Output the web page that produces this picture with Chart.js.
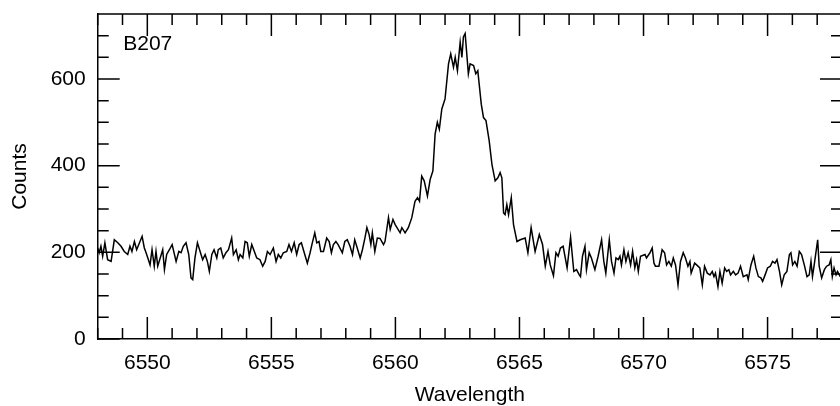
<!DOCTYPE html>
<html>
<head>
<meta charset="utf-8">
<script src="https://cdn.jsdelivr.net/npm/chart.js@4.4.1/dist/chart.umd.min.js"></script>
<style>
  html, body { margin: 0; padding: 0; background: #fff; overflow: hidden; }
  #wrap { position: relative; width: 842px; height: 406px; }
</style>
</head>
<body>
<div id="wrap"><canvas id="c"></canvas></div>
<script>
// ---- data ----
const wavelength = [
  6548.00,6548.06,6548.13,6548.20,6548.29,6548.40,6548.54,6548.67,6548.81,6548.94,
  6549.07,6549.21,6549.30,6549.38,6549.48,6549.57,6549.79,6549.88,6549.95,6550.02,
  6550.11,6550.19,6550.28,6550.35,6550.42,6550.62,6550.69,6550.78,6550.89,6551.00,
  6551.16,6551.27,6551.36,6551.45,6551.56,6551.67,6551.76,
  6551.83,6551.92,6552.02,6552.23,6552.33,6552.42,6552.50,6552.60,6552.69,6552.80,
  6552.86,6552.96,6553.06,6553.17,6553.27,6553.40,6553.47,6553.58,6553.67,6553.74,
  6553.85,6553.94,6554.03,6554.11,6554.21,6554.41,6554.54,6554.65,6554.75,6554.84,
  6554.95,6555.08,6555.19,6555.28,6555.38,6555.48,
  6555.62,6555.71,6555.81,6555.92,6556.02,6556.12,6556.21,6556.29,6556.45,6556.56,
  6556.65,6556.75,6556.83,6556.92,6556.99,6557.10,6557.23,6557.33,6557.42,6557.50,
  6557.60,6557.69,6557.86,6557.96,6558.06,6558.17,6558.27,6558.36,6558.44,6558.58,
  6558.67,6558.77,6558.85,6558.94,6559.01,6559.07,6559.17,6559.27,6559.38,
  6559.52,6559.58,6559.72,6559.79,6559.90,6559.99,6560.19,6560.26,6560.39,6560.52,
  6560.66,6560.79,6560.89,6560.97,6561.06,6561.16,6561.29,6561.40,6561.51,6561.60,
  6561.69,6561.77,6561.87,6562.00,6562.14,6562.23,6562.34,6562.41,6562.50,6562.61,
  6562.68,6562.74,6562.81,
  6562.94,6563.01,6563.15,6563.24,6563.32,6563.46,6563.55,6563.65,6563.78,6563.89,
  6564.02,6564.13,6564.22,6564.29,6564.36,6564.42,6564.49,6564.56,6564.67,6564.76,
  6564.90,6565.03,6565.23,6565.34,6565.47,6565.63,6565.80,6565.93,6566.04,6566.15,
  6566.24,6566.37,
  6566.47,6566.56,6566.65,6566.76,6566.92,6567.06,6567.19,6567.30,6567.41,6567.46,
  6567.54,6567.64,6567.70,6567.81,6567.90,6568.04,6568.17,6568.31,6568.40,6568.48,
  6568.62,6568.71,6568.81,6568.89,6568.98,6569.05,6569.11,6569.21,6569.29,6569.38,
  6569.48,6569.56,6569.65,6569.72,6569.79,6569.88,6570.06,6570.12,
  6570.26,6570.35,6570.42,6570.48,6570.62,6570.75,6570.85,6570.93,6571.02,6571.12,
  6571.20,6571.29,6571.39,6571.49,6571.60,6571.69,6571.79,6571.87,6571.92,6572.06,
  6572.14,6572.27,6572.37,6572.46,6572.57,6572.68,6572.77,6572.84,6572.90,6573.00,
  6573.08,6573.17,6573.27,6573.35,6573.44,6573.51,6573.62,6573.71,6573.81,6573.91,
  6574.02,
  6574.17,6574.22,6574.33,6574.44,6574.53,6574.63,6574.73,6574.80,6574.90,6575.00,
  6575.11,6575.20,6575.30,6575.38,6575.48,6575.57,6575.67,6575.78,6575.88,6575.94,
  6576.01,6576.10,6576.19,6576.28,6576.37,6576.48,6576.59,6576.68,6576.75,6576.81,
  6576.88,6577.02,6577.08,6577.18,6577.29,6577.38,6577.48,6577.55,6577.61,6577.68,
  6577.76,6577.82,6577.93
];
const counts = [
  210,199,214,191,222,183,179,229,222,214,
  202,195,214,202,225,206,237,210,199,187,
  171,206,168,202,168,206,160,195,206,218,
  179,202,199,214,222,195,141,
  137,187,222,183,195,179,156,195,206,187,
  206,210,187,199,206,233,195,206,183,195,
  187,225,222,191,218,187,183,168,179,202,
  195,210,179,195,187,199,
  202,218,202,222,195,218,222,206,175,199,
  222,245,222,225,202,202,233,225,199,218,
  225,218,199,225,229,214,195,229,214,187,
  206,233,257,241,218,245,202,233,232,
  218,225,280,253,276,264,245,257,245,257,
  280,318,326,318,376,365,330,368,388,473,
  500,484,531,554,635,658,627,650,619,685,
  650,697,705,
  612,635,631,612,619,542,511,504,457,403,
  365,372,384,372,291,287,310,287,326,264,
  225,229,233,199,257,202,241,218,168,202,
  171,146,
  199,191,210,214,164,235,156,160,148,144,
  191,214,160,199,187,160,191,229,179,152,
  229,179,152,187,183,191,171,206,179,199,
  171,202,164,183,156,191,195,187,
  199,210,175,168,168,206,199,171,179,168,
  187,171,125,179,199,187,168,179,152,175,
  171,164,125,168,152,148,156,144,152,121,
  156,129,164,156,160,148,156,148,152,168,
  144,
  148,137,171,191,164,144,141,133,148,164,
  168,179,175,183,156,125,148,156,195,199,
  171,179,168,202,195,171,144,148,179,144,
  171,229,168,141,160,168,171,183,144,164,
  148,156,144
];
const xRange = [6548, 6578];
const yRange = [0, 750];
const xMajorTicks = [6550, 6555, 6560, 6565, 6570, 6575];
const xMinorTicks = [6548,6549,6551,6552,6553,6554,6556,6557,6558,6559,6561,6562,6563,6564,6566,6567,6568,6569,6571,6572,6573,6574,6576,6577,6578];
const yMajorTicks = [0, 200, 400, 600];
const yMinorTicks = [50,100,150,250,300,350,450,500,550,650,700,750];
const label = { text: 'B207', x: 6549.03, y: 666 };

const FONT = '"Liberation Sans", Arial, Helvetica, sans-serif';
const points = wavelength.map((w, i) => ({ x: w, y: counts[i] }));

const frame = {
  id: 'frame',
  afterDraw(chart) {
    const { ctx, chartArea: a, scales: { x, y } } = chart;
    ctx.save();
    ctx.strokeStyle = '#000';
    ctx.lineWidth = 1.5;
    ctx.beginPath();
    const seg = (x1, y1, x2, y2) => { ctx.moveTo(x1, y1); ctx.lineTo(x2, y2); };
    seg(a.left, a.top, a.right, a.top);
    seg(a.right, a.top, a.right, a.bottom);
    xMajorTicks.forEach(v => { const p = x.getPixelForValue(v); seg(p, a.bottom, p, a.bottom - 22); seg(p, a.top, p, a.top + 22); });
    xMinorTicks.forEach(v => { const p = x.getPixelForValue(v); seg(p, a.bottom, p, a.bottom - 11); seg(p, a.top, p, a.top + 11); });
    yMajorTicks.forEach(v => { const p = y.getPixelForValue(v); seg(a.left, p, a.left + 22, p); seg(a.right, p, a.right - 22, p); });
    yMinorTicks.forEach(v => { const p = y.getPixelForValue(v); seg(a.left, p, a.left + 11, p); seg(a.right, p, a.right - 11, p); });
    ctx.stroke();
    ctx.fillStyle = '#000';
    ctx.font = '21px ' + FONT;
    ctx.textAlign = 'left';
    ctx.textBaseline = 'alphabetic';
    ctx.fillText(label.text, x.getPixelForValue(label.x), y.getPixelForValue(label.y));
    ctx.restore();
  }
};

new Chart(document.getElementById('c'), {
  type: 'line',
  data: {
    datasets: [{
      data: points,
      borderColor: '#000',
      borderWidth: 1.5,
      pointRadius: 0,
      tension: 0,
      fill: false
    }]
  },
  options: {
    responsive: true,
    maintainAspectRatio: false,
    animation: false,
    events: [],
    layout: { padding: { top: 14, right: 0, left: 0, bottom: 0 } },
    plugins: { legend: { display: false }, tooltip: { enabled: false } },
    scales: {
      x: {
        type: 'linear',
        min: xRange[0], max: xRange[1],
        afterBuildTicks: s => { s.ticks = xMajorTicks.map(v => ({ value: v })); },
        afterFit: s => { s.height = 67; s.paddingRight = 0; s.paddingLeft = 0; },
        grid: { display: false, drawTicks: false },
        border: { display: true, color: '#000', width: 1.5 },
        ticks: {
          autoSkip: false,
          padding: 12,
          color: '#000',
          font: { family: FONT, size: 21 },
          maxRotation: 0,
          callback: v => String(v)
        },
        title: { display: true, text: 'Wavelength', color: '#000', font: { family: FONT, size: 21 }, padding: { top: 0, bottom: -2 } }
      },
      y: {
        min: yRange[0], max: yRange[1],
        afterBuildTicks: s => { s.ticks = yMajorTicks.map(v => ({ value: v })); },
        afterFit: s => { s.width = 97.7; s.paddingTop = 0; s.paddingBottom = 0; },
        grid: { display: false, drawTicks: false },
        border: { display: true, color: '#000', width: 1.5 },
        ticks: {
          padding: 12,
          color: '#000',
          font: { family: FONT, size: 21 },
          callback: v => String(v)
        },
        title: { display: true, text: 'Counts', color: '#000', font: { family: FONT, size: 21 }, padding: 8 }
      }
    }
  },
  plugins: [frame]
});
</script>
</body>
</html>
